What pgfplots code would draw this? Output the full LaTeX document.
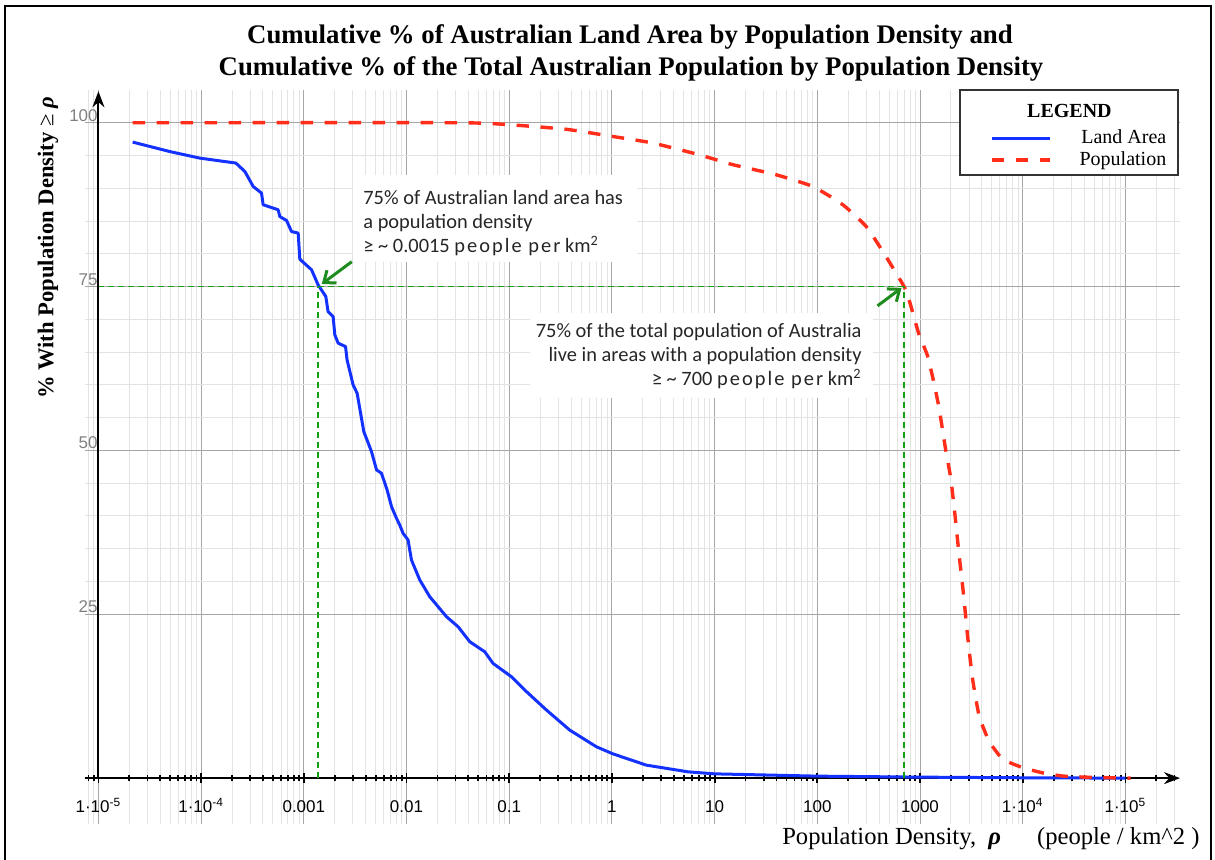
\documentclass[border=0pt]{standalone}
\usepackage{pgfplots}
\pgfplotsset{compat=1.18}
\usepackage{fontspec}
\setmainfont{Liberation Serif}
\newfontfamily\helv{Liberation Sans}
\newfontfamily\carlito{Carlito}
\usetikzlibrary{arrows.meta}
\definecolor{landblue}{RGB}{20,50,255}
\definecolor{popred}{RGB}{255,45,25}
\definecolor{arrgreen}{RGB}{30,140,30}
\definecolor{guidegreen}{RGB}{20,160,20}
\begin{document}
\begin{tikzpicture}
\path[use as bounding box] (0,0) rectangle (607.5pt,430pt);
\draw[line width=1.2pt] (2.5pt,0) -- (2.5pt,427pt) -- (605.5pt,427pt) -- (605.5pt,0);
\begin{axis}[
 at={(42.5pt,18pt)}, anchor=south west,
 scale only axis, width=547.5pt, height=367pt,
 xmode=log, log basis x=10,
 xmin=7.4e-6, xmax=3.4e5, ymin=-7, ymax=105,
 axis x line=middle, axis y line=left,
 x axis line style={line width=1pt, -{Stealth[length=8pt,width=6pt]}},
 y axis line style={draw=none},
 xtick={1e-5,1e-4,1e-3,1e-2,1e-1,1,10,100,1000,1e4,1e5},
 minor xtick={8e-6,9e-6,
  2e-5,3e-5,4e-5,5e-5,6e-5,7e-5,8e-5,9e-5,
  2e-4,3e-4,4e-4,5e-4,6e-4,7e-4,8e-4,9e-4,
  2e-3,3e-3,4e-3,5e-3,6e-3,7e-3,8e-3,9e-3,
  0.02,0.03,0.04,0.05,0.06,0.07,0.08,0.09,
  0.2,0.3,0.4,0.5,0.6,0.7,0.8,0.9,
  2,3,4,5,6,7,8,9,
  20,30,40,50,60,70,80,90,
  200,300,400,500,600,700,800,900,
  2000,3000,4000,5000,6000,7000,8000,9000,
  2e4,3e4,4e4,5e4,6e4,7e4,8e4,9e4,
  2e5,3e5},
 xticklabels={{1·10\textsuperscript{-5}},{1·10\textsuperscript{-4}},0.001,0.01,0.1,1,10,100,1000,{1·10\textsuperscript{4}},{1·10\textsuperscript{5}}},
 xticklabel style={font=\helv\fontsize{8.5}{9}\selectfont, anchor=base, yshift=-14.5pt},
 ytick={25,50,75,100}, minor y tick num=4,
 yticklabels={25,50,75,100},
 yticklabel style={font=\helv\fontsize{8.5}{9}\selectfont, text=black!50, anchor=south east, inner sep=1pt, xshift=10pt, yshift=-0.5pt},
 grid=both,
 major grid style={draw=black!35, line width=0.5pt},
 minor grid style={draw=black!11, line width=0.5pt},
 tick align=center,
 major tick length=5pt, minor tick length=3pt,
 x tick style={black, line width=0.9pt},
 y tick style={draw=none},
 clip=false,
 legend style={draw=none, fill=none, at={(axis description cs:0.9955,0.955)}, anchor=north east,
   font=\fontsize{10}{11}\selectfont, nodes={inner sep=1.2pt}, row sep=0pt,
   /tikz/every odd column/.append style={column sep=13pt}},
 legend cell align=right,
 legend image code/.code={\draw[#1] (0pt,0pt) -- (29pt,0pt);},
]
% legend frame and heading
\draw[fill=white, draw=black!80, line width=0.8pt] (axis description cs:0.799,0.884) rectangle (axis description cs:0.998,1.0);
\node[font=\bfseries\fontsize{10}{11}\selectfont] at (axis description cs:0.899,0.971) {LEGEND};

\addplot[color=landblue, line width=1.5pt, line join=round] coordinates {
(2.153e-5,97.05) (4.966e-5,95.6) (9.73e-5,94.6) (2.178e-4,93.85) (2.667e-4,92.56)
(3.214e-4,90.27) (3.873e-4,89.27) (4.018e-4,87.48) (5.623e-4,86.72) (5.834e-4,85.69)
(6.792e-4,85.08) (7.586e-4,83.40) (8.810e-4,83.16) (9.141e-4,79.19) (1.189e-3,77.56)
(1.377e-3,75.27) (1.637e-3,73.48) (1.722e-3,71.19) (1.928e-3,70.43) (2.004e-3,67.63)
(2.158e-3,66.37) (2.547e-3,65.85) (2.636e-3,63.82) (3.020e-3,60.0) (3.304e-3,58.73)
(3.837e-3,52.87) (4.560e-3,49.82) (5.105e-3,47.02) (5.702e-3,46.52) (6.471e-3,43.97)
(7.145e-3,41.42) (7.980e-3,39.65) (8.590e-3,38.63) (9.247e-3,37.36) (1.035e-2,36.34)
(1.117e-2,33.28) (1.346e-2,30.23) (1.683e-2,27.68) (2.449e-2,24.63) (3.177e-2,23.10)
(4.130e-2,20.81) (5.781e-2,19.28) (6.950e-2,17.51) (0.1050,15.47) (0.1416,13.44)
(0.2307,10.38) (0.3882,7.33) (0.7063,4.78) (1.023,3.7) (2.163,1.98) (5.495,0.96)
(10,0.65) (100,0.3) (1000,0.15) (1e4,0.05) (1e5,0)
};
\addlegendentry{Land Area}

\addplot[color=popred, line width=1.7pt, dash pattern=on 6.2pt off 5.8pt, smooth, tension=0.3] coordinates {
(2.153e-5,100) (0.03162,100) (0.1,99.7) (0.3606,99.0) (1.023,97.9) (2.512,96.9)
(7.145,95.1) (15.07,93.6) (39.81,92.06) (90.57,90.27) (177.4,87.48) (299.2,84.17)
(457,79.8) (700,75.0) (781.6,73.0) (977.2,67.7) (1180,64.5) (1371,60.2) (1535,56.4)
(1782,50.0) (1995,45.7) (2198,39.9) (2404,34.0) (2649,28.1) (2904,21.7) (3243,15.2)
(3776,9.4) (4721,5.6) (6383,2.9) (10000,1.6) (15670,0.8) (25120,0.3) (50120,0.1) (112200,0)
};
\addlegendentry{Population}

\addplot[guidegreen, line width=0.8pt, dash pattern=on 3pt off 2pt, forget plot] coordinates {(1e-5,75) (700,75)};
\addplot[guidegreen, line width=0.8pt, dash pattern=on 3pt off 2pt, forget plot] coordinates {(1.37e-3,0) (1.37e-3,75)};
\addplot[guidegreen, line width=0.8pt, dash pattern=on 3pt off 2pt, forget plot] coordinates {(700,0) (700,75)};

\draw[arrgreen, line width=1.5pt, -{Straight Barb[length=5pt,width=8pt]}] (axis cs:2.93e-3,78.8) -- (axis cs:1.496e-3,75.4);
\draw[arrgreen, line width=1.5pt, -{Straight Barb[length=5pt,width=8pt]}] (axis cs:385.5,72.06) -- (axis cs:660.7,74.8);

\draw[line width=1pt, -{Stealth[length=8pt,width=6pt]}] (axis cs:1e-5,0) -- (axis cs:1e-5,104.8);
\end{axis}

% annotations
\fill[white] (176.5pt,299pt) rectangle (318.5pt,342.5pt);
\node[anchor=north west, align=left, inner sep=0pt, text=black!85,
  font=\carlito\fontsize{10.2}{12}\selectfont] at (181.5pt,335pt)
  {75\% of Australian land area has\\a population density\\≥ \textasciitilde{} 0.0015 {\addfontfeature{LetterSpace=10}people per} km\textsuperscript{2}};
\fill[white] (265pt,231pt) rectangle (436.5pt,273.5pt);
\node[anchor=north east, align=right, inner sep=0pt, text=black!85,
  font=\carlito\fontsize{10.2}{12}\selectfont] at (431pt,268.5pt)
  {75\% of the total population of Australia\\live in areas with a population density\\≥ \textasciitilde{} 700 {\addfontfeature{LetterSpace=10}people per} km\textsuperscript{2}};

% titles and labels
\node[anchor=base, font=\bfseries\fontsize{13.4}{15}\selectfont] at (315pt,408pt) {Cumulative \% of Australian Land Area by Population Density and};
\node[anchor=base, font=\bfseries\fontsize{13.4}{15}\selectfont] at (315.5pt,392pt) {Cumulative \% of the Total Australian Population by Population Density};
\node[rotate=90, font=\bfseries\fontsize{11.3}{12}\selectfont] at (24pt,306pt) {\% With Population Density {\mdseries ≥} \textit{ρ}};
\node[anchor=base east, inner sep=0pt, font=\fontsize{12.3}{13}\selectfont] at (600pt,7.5pt) {Population Density,\ \ \textbf{\textit{ρ}}\hspace{18pt}(people / km\textasciicircum 2 )};
\end{tikzpicture}
\end{document}
